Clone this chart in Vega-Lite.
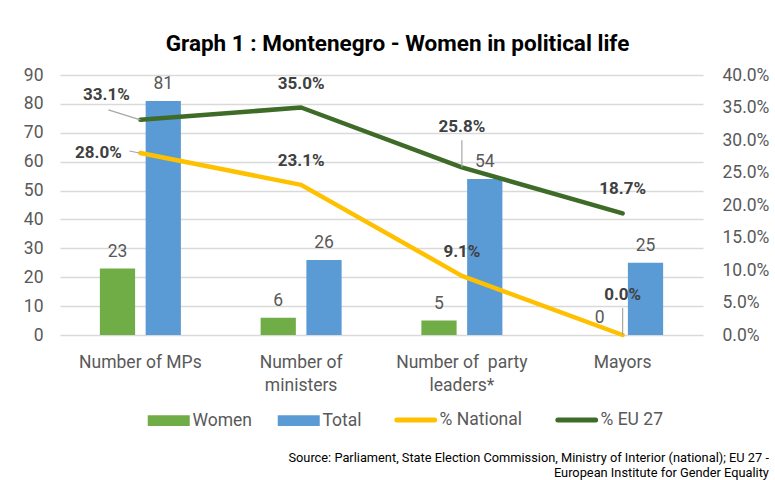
{
  "$schema": "https://vega.github.io/schema/vega-lite/v6.json",
  "width": 643,
  "height": 260,
  "autosize": {"type": "none"},
  "padding": {"left": 60, "top": 75, "right": 72, "bottom": 145},
  "background": "white",
  "config": {
    "view": {"stroke": null},
    "font": "Roboto"
  },
  "title": {
    "text": ["Source: Parliament, State Election Commission,  Ministry of Interior (national); EU 27 -", "European Institute for Gender Equality"],
    "orient": "bottom",
    "anchor": "end",
    "frame": "bounds",
    "fontSize": 12.8,
    "fontWeight": "normal",
    "font": "Roboto",
    "color": "#000000",
    "lineHeight": 15,
    "offset": 22
  },
  "datasets": {
    "bars": [
      {"cat": "Number of MPs", "series": "Women", "value": 23},
      {"cat": "Number of MPs", "series": "Total", "value": 81},
      {"cat": "Number of ministers", "series": "Women", "value": 6},
      {"cat": "Number of ministers", "series": "Total", "value": 26},
      {"cat": "Number of  party leaders*", "series": "Women", "value": 5},
      {"cat": "Number of  party leaders*", "series": "Total", "value": 54},
      {"cat": "Mayors", "series": "Women", "value": 0},
      {"cat": "Mayors", "series": "Total", "value": 25}
    ],
    "lines": [
      {"cat": "Number of MPs", "series": "% National", "pct": 0.28},
      {"cat": "Number of MPs", "series": "% EU 27", "pct": 0.331},
      {"cat": "Number of ministers", "series": "% National", "pct": 0.231},
      {"cat": "Number of ministers", "series": "% EU 27", "pct": 0.35},
      {"cat": "Number of  party leaders*", "series": "% National", "pct": 0.091},
      {"cat": "Number of  party leaders*", "series": "% EU 27", "pct": 0.258},
      {"cat": "Mayors", "series": "% National", "pct": 0.0},
      {"cat": "Mayors", "series": "% EU 27", "pct": 0.187}
    ]
  },
  "layer": [
    {
      "data": {"name": "bars"},
      "encoding": {
        "x": {
          "field": "cat", "type": "nominal", "sort": null,
          "scale": {"paddingInner": 0.496, "paddingOuter": 0.248},
          "axis": {
            "orient": "bottom", "title": null, "domain": false, "ticks": false,
            "labelAngle": 0, "labelFontSize": 17.5, "labelColor": "#595959",
            "labelFont": "Roboto", "labelPadding": 18, "labelBaseline": "top",
            "labelLineHeight": 23, "labelLimit": 200,
            "labelExpr": "datum.value == 'Number of ministers' ? ['Number of', 'ministers'] : datum.value == 'Number of  party leaders*' ? ['Number of \u00a0party', 'leaders*'] : datum.value"
          }
        },
        "xOffset": {
          "field": "series", "type": "nominal", "sort": ["Women", "Total"],
          "scale": {"paddingInner": 0.23, "paddingOuter": 0}
        },
        "y": {
          "field": "value", "type": "quantitative",
          "scale": {"domain": [0, 90], "nice": false},
          "axis": {
            "orient": "left", "title": null, "domain": false, "ticks": false,
            "values": [0, 10, 20, 30, 40, 50, 60, 70, 80, 90],
            "labelFontSize": 17.5, "labelColor": "#595959", "labelPadding": 17,
            "grid": true, "gridColor": "#d9d9d9", "gridWidth": 1.3
          }
        }
      },
      "layer": [
        {
          "mark": {"type": "bar"},
          "encoding": {
            "color": {
              "field": "series", "type": "nominal",
              "scale": {
                "domain": ["Women", "Total", "% National", "% EU 27"],
                "range": ["#70AD47", "#5B9BD5", "#FFC000", "#3E6B28"]
              },
              "legend": {
                "title": null, "orient": "none", "legendX": 100, "legendY": 336,
                "direction": "horizontal",
                "labelFontSize": 17.5, "labelColor": "#595959", "labelFont": "Roboto",
                "symbolSize": 1764, "labelOffset": 15, "columnPadding": 24,
                "encode": {
                  "symbols": {
                    "update": {
                      "shape": {"signal": "indexof(['Women','Total'], datum.value) >= 0 ? 'M-1,-0.26H1V0.26H-1Z' : 'M-0.9,0H0.9'"},
                      "fill": {"signal": "indexof(['Women','Total'], datum.value) >= 0 ? scale('color', datum.value) : 'transparent'"},
                      "stroke": {"signal": "scale('color', datum.value)"},
                      "strokeWidth": {"signal": "indexof(['Women','Total'], datum.value) >= 0 ? 0 : 5"},
                      "strokeCap": {"value": "round"},
                      "opacity": {"value": 1}
                    }
                  }
                }
              }
            }
          }
        },
        {
          "mark": {"type": "text", "baseline": "alphabetic", "dy": -12, "fontSize": 17.5, "color": "#595959", "font": "Roboto"},
          "encoding": {"text": {"field": "value", "type": "quantitative"}}
        }
      ]
    },
    {
      "data": {"name": "lines"},
      "encoding": {
        "x": {
          "field": "cat", "type": "nominal", "sort": null,
          "axis": {
            "orient": "top", "labels": false, "ticks": false, "domain": false, "grid": false,
            "title": "Graph 1 : Montenegro - Women in political life",
            "titleFont": "Roboto", "titleFontSize": 22.5, "titleFontWeight": "bold",
            "titleColor": "#000000", "titlePadding": 25, "titleBaseline": "alphabetic",
            "titleX": 337, "titleAlign": "center"
          }
        },
        "y": {
          "field": "pct", "type": "quantitative",
          "scale": {"domain": [0, 0.4], "nice": false},
          "axis": {
            "orient": "right", "title": null, "domain": false, "ticks": false, "grid": false,
            "values": [0, 0.05, 0.1, 0.15, 0.2, 0.25, 0.3, 0.35, 0.4],
            "format": ".1%", "labelFontSize": 17.5, "labelColor": "#595959", "labelPadding": 19
          }
        }
      },
      "layer": [
        {
          "mark": {"type": "line", "strokeWidth": 4.5, "strokeCap": "round", "strokeJoin": "round"},
          "encoding": {"color": {"field": "series", "type": "nominal"}}
        },
        {
          "transform": [{"filter": "(datum.cat == 'Number of  party leaders*' && datum.series == '% EU 27') || (datum.cat == 'Mayors' && datum.series == '% National')"}],
          "mark": {"type": "rule", "color": "#a6a6a6", "strokeWidth": 1.2, "yOffset": -27},
          "encoding": {"y2": {"field": "pct"}}
        },
        {
          "transform": [{"filter": "datum.cat == 'Number of MPs' && datum.series == '% EU 27'"}],
          "mark": {"type": "rule", "color": "#a6a6a6", "strokeWidth": 1.2, "xOffset": -32, "yOffset": -10},
          "encoding": {"x2": {"field": "cat"}, "y2": {"field": "pct"}}
        },
        {
          "transform": [{"filter": "datum.cat == 'Number of MPs' && datum.series == '% National'"}],
          "mark": {"type": "rule", "color": "#a6a6a6", "strokeWidth": 1.2, "xOffset": -11, "x2Offset": -1, "yOffset": -2},
          "encoding": {"x2": {"field": "cat"}, "y2": {"field": "pct"}}
        },
        {
          "transform": [{"filter": "!((datum.cat == 'Number of MPs') || (datum.cat == 'Number of  party leaders*' && datum.series == '% EU 27') || (datum.cat == 'Mayors' && datum.series == '% National'))"}],
          "mark": {"type": "text", "baseline": "middle", "dy": -24, "fontSize": 17, "fontWeight": "bold", "color": "#404040", "font": "Roboto"},
          "encoding": {"text": {"field": "pct", "type": "quantitative", "format": ".1%"}}
        },
        {
          "transform": [{"filter": "(datum.cat == 'Number of  party leaders*' && datum.series == '% EU 27') || (datum.cat == 'Mayors' && datum.series == '% National')"}],
          "mark": {"type": "text", "baseline": "middle", "dy": -40, "fontSize": 17, "fontWeight": "bold", "color": "#404040", "font": "Roboto"},
          "encoding": {"text": {"field": "pct", "type": "quantitative", "format": ".1%"}}
        },
        {
          "transform": [{"filter": "datum.cat == 'Number of MPs' && datum.series == '% EU 27'"}],
          "mark": {"type": "text", "baseline": "middle", "dx": -34, "dy": -25, "fontSize": 17, "fontWeight": "bold", "color": "#404040", "font": "Roboto"},
          "encoding": {"text": {"field": "pct", "type": "quantitative", "format": ".1%"}}
        },
        {
          "transform": [{"filter": "datum.cat == 'Number of MPs' && datum.series == '% National'"}],
          "mark": {"type": "text", "baseline": "middle", "dx": -42, "dy": 0, "fontSize": 17, "fontWeight": "bold", "color": "#404040", "font": "Roboto"},
          "encoding": {"text": {"field": "pct", "type": "quantitative", "format": ".1%"}}
        }
      ]
    }
  ],
  "resolve": {"scale": {"y": "independent"}}
}
